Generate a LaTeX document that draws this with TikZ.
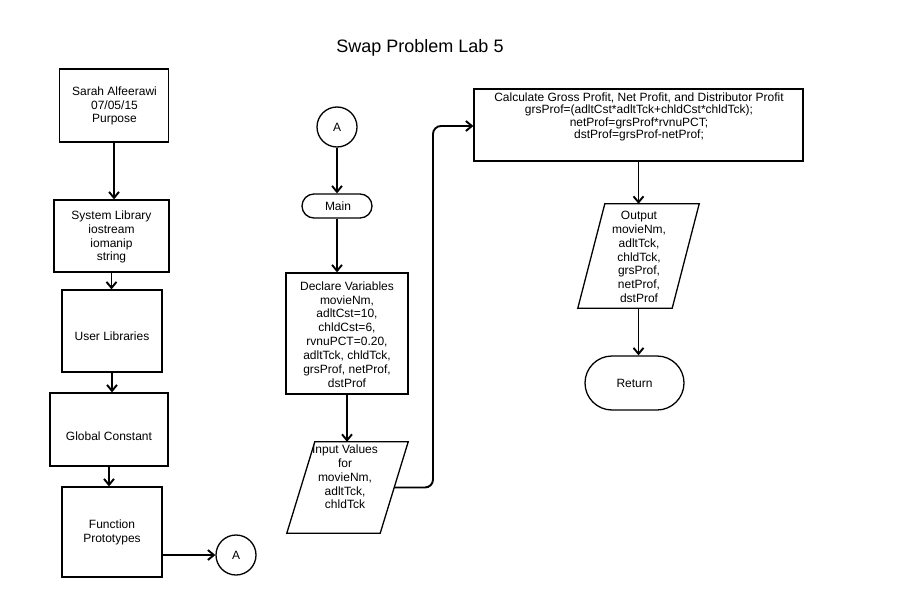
\documentclass[tikz,border=0pt]{standalone}
\usepackage{fontspec}
\setmainfont{Liberation Sans}
\usetikzlibrary{shapes.geometric,arrows.meta,calc}
\begin{document}
\begin{tikzpicture}[x=1pt,y=-1pt,
  shp/.style={draw,line width=1.3pt,inner sep=0pt},
  procbox/.style={shp,rectangle},
  termbox/.style={shp,rectangle},
  conncirc/.style={shp,circle,minimum size=40pt,font=\fontsize{12}{14}\selectfont},
  iobox/.style={rectangle,inner sep=0pt},
  ioline/.style={line width=1.3pt,line join=miter},
  txt/.style={align=center,inner sep=0pt,font=\fontsize{12}{13.8}\selectfont},
  arr/.style={line width=1.9pt,-{Straight Barb[length=6pt,width=10pt]}}]
\useasboundingbox (0,0) rectangle (920,615);
\fill[white] (0,0) rectangle (920,615);

\node[txt,font=\fontsize{18}{20}\selectfont] (title) at (420,48) {Swap Problem Lab 5};

% left column
\node[procbox,minimum width=109pt,minimum height=73pt] (b1) at (114,105.5) {};
\node[txt] (t1) at (114.5,106) {Sarah Alfeerawi\\07/05/15\\Purpose};
\node[procbox,minimum width=115pt,minimum height=72pt] (b2) at (111.5,236) {};
\node[txt] (t2) at (111.5,237) {System Library\\iostream\\iomanip\\string};
\node[procbox,minimum width=100pt,minimum height=82pt] (b3) at (112,331) {};
\node[txt] (t3) at (112,336) {User Libraries};
\node[procbox,minimum width=118pt,minimum height=73pt] (b4) at (109,429.5) {};
\node[txt] (t4) at (109,436) {Global Constant};
\node[procbox,minimum width=100pt,minimum height=90pt] (b5) at (112,532) {};
\node[txt] (t5) at (112,532.5) {Function\\Prototypes};
\node[conncirc] (ca) at (236,555) {A};

% middle column
\node[conncirc] (cb) at (337,127) {A};
\node[termbox,rounded corners=12pt,minimum width=70pt,minimum height=24pt] (main) at (337,206) {};
\node[txt] (tm) at (338,206) {Main};
\node[procbox,minimum width=122pt,minimum height=121pt] (decl) at (347,333.5) {};
\node[txt,font=\fontsize{12}{13.9}\selectfont] (td) at (347,334.5) {Declare Variables\\movieNm,\\adltCst=10,\\chldCst=6,\\rvnuPCT=0.20,\\adltTck, chldTck,\\grsProf, netProf,\\dstProf};
\node[iobox,minimum width=121pt,minimum height=91pt] (inp) at (347.5,487.5) {};
\draw[ioline] (inp.south west) -- ($(inp.north west)+(28,0)$) -- (inp.north east)
  -- ($(inp.south east)+(-28,0)$) -- cycle;
\coordinate (inpR) at ($(inp.east)+(-14,0)$);
\node[txt] (ti) at (345,477) {Input Values\\for\\movieNm,\\adltTck,\\chldTck};

% right column
\node[procbox,minimum width=329pt,minimum height=72pt] (calc) at (638.5,125) {};
\node[txt,font=\fontsize{12}{12.5}\selectfont] (tc) at (639,117) {Calculate Gross Profit, Net Profit, and Distributor Profit\\grsProf=(adltCst*adltTck+chldCst*chldTck);\\netProf=grsProf*rvnuPCT;\\dstProf=grsProf-netProf;};
\node[iobox,minimum width=121pt,minimum height=104pt] (out) at (638.5,256) {};
\draw[ioline] (out.south west) -- ($(out.north west)+(27,0)$) -- (out.north east)
  -- ($(out.south east)+(-27,0)$) -- cycle;
\node[txt] (to) at (639,257) {Output\\movieNm,\\adltTck,\\chldTck,\\grsProf,\\netProf,\\dstProf};
\node[termbox,rounded corners=27pt,minimum width=99pt,minimum height=54pt] (ret) at (634.5,383) {};
\node[txt] (tr) at (634.5,383) {Return};

\coordinate (bend) at (433,126);

% connectors
\draw[arr] (b1.south) -- (b1.south |- b2.north);
\draw[arr] (b2.south) -- (b2.south |- b3.north);
\draw[arr] (b3.south) -- (b3.south |- b4.north);
\draw[arr] (b4.south) -- (b4.south |- b5.north);
\draw[arr] (b5.east |- ca.west) -- (ca.west);
\draw[arr] (cb.south) -- (cb.south |- main.north);
\draw[arr] (main.south) -- (main.south |- decl.north);
\draw[arr] (decl.south) -- (decl.south |- inp.north);
\draw[arr,rounded corners=8pt] (inpR) -| (bend) -- (calc.west |- bend);
\draw[arr] (calc.south -| out.north) -- (out.north);
\draw[arr] (out.south) -- (out.south |- ret.north);
\end{tikzpicture}
\end{document}
